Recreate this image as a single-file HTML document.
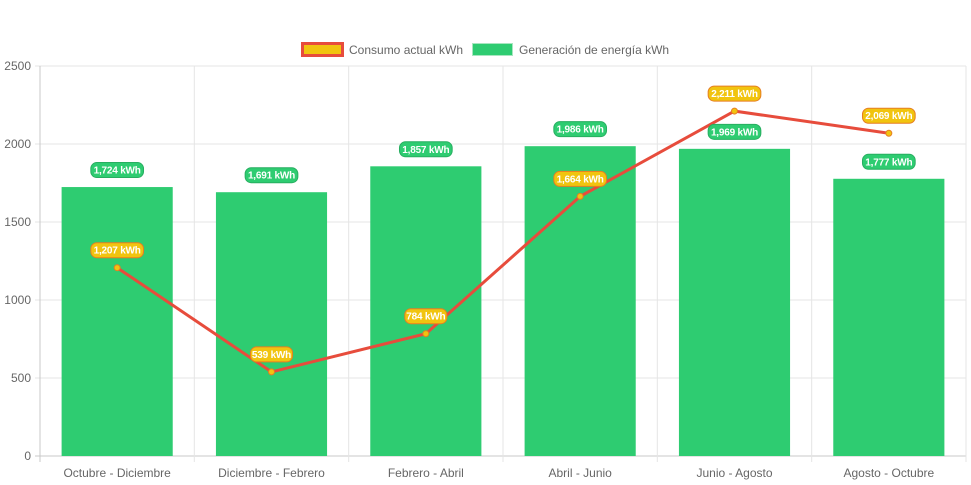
<!DOCTYPE html>
<html><head><meta charset="utf-8"><style>
html,body{margin:0;padding:0;background:#fff;}
svg{display:block;font-family:"Liberation Sans",Arial,sans-serif;}
</style></head><body>
<svg id="chart" width="971" height="485"></svg>
<script>
const categories=["Octubre - Diciembre","Diciembre - Febrero","Febrero - Abril","Abril - Junio","Junio - Agosto","Agosto - Octubre"];
const generation=[1724,1691,1857,1986,1969,1777];
const consumption=[1207,539,784,1664,2211,2069];
const yTicks=[0,500,1000,1500,2000,2500];
const L=40,R=966,T=66,B=456,YMAX=2500;
const svg=document.getElementById('chart');
const NS='http://www.w3.org/2000/svg';
const cw=(R-L)/categories.length;
function y(v){return B-(v/YMAX)*(B-T);}
function xc(i){return L+cw*(i+0.5);}
function mk(tag,attrs,parent){const e=document.createElementNS(NS,tag);for(const k in attrs)e.setAttribute(k,attrs[k]);(parent||svg).appendChild(e);return e;}
function fmt(v){return v.toLocaleString('en-US')+' kWh';}
yTicks.forEach(t=>{
  const g=mk('line',{x1:L-5,x2:R,y1:y(t),y2:y(t),stroke:t===0?'#c8c8c8':'#e5e5e5','stroke-width':1});
  
  
  const tx=mk('text',{x:L-9,y:y(t)+4,'text-anchor':'end','font-size':12,fill:'#666'});
  tx.textContent=t;
  
  
});
for(let i=0;i<=categories.length;i++){
  const g=mk('line',{x1:L+cw*i,x2:L+cw*i,y1:T,y2:B+6,stroke:i===0?'#c8c8c8':'#e5e5e5','stroke-width':1});
  
  
}
const bw=cw*0.72;
generation.forEach((v,i)=>{
  const r=mk('rect',{x:xc(i)-bw/2,y:y(v),width:bw,height:B-y(v),fill:'#2ecc71'});
  
  
});
categories.forEach((c,i)=>{
  const t=mk('text',{x:xc(i),y:B+21,'text-anchor':'middle','font-size':12,fill:'#666'});
  t.textContent=c;
  
  
});
const pts=consumption.map((v,i)=>xc(i)+','+y(v)).join(' ');
const pl=mk('polyline',{points:pts,fill:'none',stroke:'#e74c3c','stroke-width':3});


consumption.forEach((v,i)=>{
  const c=mk('circle',{cx:xc(i),cy:y(v),r:3,fill:'#f1c40f',stroke:'#e67e22','stroke-width':1});
  
  
});
function label(x,cy,text,bg,border,name){
  const w=text.length*5.3+5;
  const r=mk('rect',{x:x-w/2,y:cy-7.5,width:w,height:15,rx:6,fill:bg,stroke:border,'stroke-width':1});
  
  
  const t=mk('text',{x:x,y:cy+3.5,'text-anchor':'middle','font-size':10,'font-weight':'bold',fill:'#fff','letter-spacing':'-0.2'});
  t.textContent=text;
  
  
}
generation.forEach((v,i)=>label(xc(i),y(v)-17,fmt(v),'#2ecc71','#27ae60','generation-value-label'));
consumption.forEach((v,i)=>label(xc(i),y(v)-17.5,fmt(v),'#f1c40f','#e67e22','consumption-value-label'));
const lg=mk('g',{});


const s1=mk('rect',{x:302.5,y:43.5,width:40,height:12,fill:'#f1c40f',stroke:'#e74c3c','stroke-width':3},lg);


const t1=mk('text',{x:349,y:54,'font-size':12,fill:'#666'},lg);
t1.textContent='Consumo actual kWh';


const s2=mk('rect',{x:472.5,y:43.5,width:40,height:12,fill:'#2ecc71',stroke:'#a8e6c0','stroke-width':1},lg);


const t2=mk('text',{x:519,y:54,'font-size':12,fill:'#666'},lg);
t2.textContent='Generación de energía kWh';


</script>
</body></html>
